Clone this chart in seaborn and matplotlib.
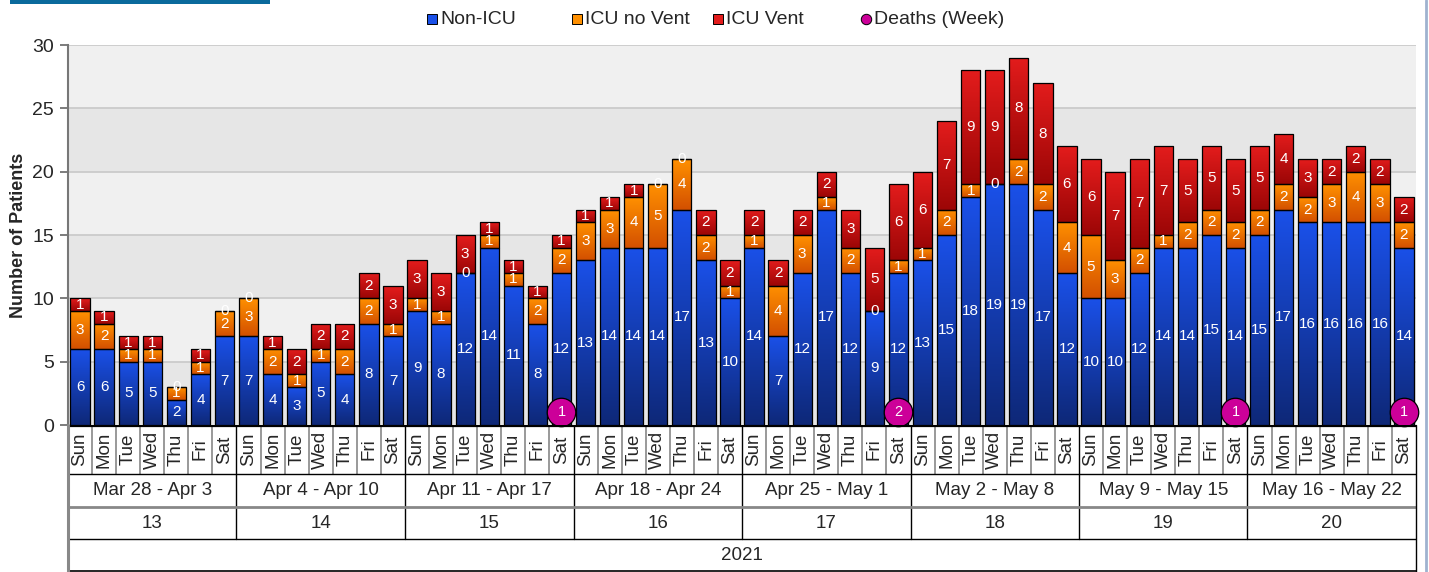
import numpy as np
import pandas as pd
import matplotlib
matplotlib.use("Agg")
import matplotlib.pyplot as plt
from matplotlib.colors import LinearSegmentedColormap
from matplotlib.lines import Line2D
from matplotlib.patches import Rectangle
import seaborn as sns

# ---------------- data ----------------
days = ["Sun", "Mon", "Tue", "Wed", "Thu", "Fri", "Sat"]
week_ranges = ["Mar 28 - Apr 3", "Apr 4 - Apr 10", "Apr 11 - Apr 17", "Apr 18 - Apr 24",
               "Apr 25 - May 1", "May 2 - May 8", "May 9 - May 15", "May 16 - May 22"]
week_numbers = ["13", "14", "15", "16", "17", "18", "19", "20"]
year_label = "2021"

non_icu = [6, 6, 5, 5, 2, 4, 7,
           7, 4, 3, 5, 4, 8, 7,
           9, 8, 12, 14, 11, 8, 12,
           13, 14, 14, 14, 17, 13, 10,
           14, 7, 12, 17, 12, 9, 12,
           13, 15, 18, 19, 19, 17, 12,
           10, 10, 12, 14, 14, 15, 14,
           15, 17, 16, 16, 16, 16, 14]
icu_no_vent = [3, 2, 1, 1, 1, 1, 2,
               3, 2, 1, 1, 2, 2, 1,
               1, 1, 0, 1, 1, 2, 2,
               3, 3, 4, 5, 4, 2, 1,
               1, 4, 3, 1, 2, 0, 1,
               1, 2, 1, 0, 2, 2, 4,
               5, 3, 2, 1, 2, 2, 2,
               2, 2, 2, 3, 4, 3, 2]
icu_vent = [1, 1, 1, 1, 0, 1, 0,
            0, 1, 2, 2, 2, 2, 3,
            3, 3, 3, 1, 1, 1, 1,
            1, 1, 1, 0, 0, 2, 2,
            2, 2, 2, 2, 3, 5, 6,
            6, 7, 9, 9, 8, 8, 6,
            6, 7, 7, 7, 5, 5, 5,
            5, 4, 3, 2, 2, 2, 2]
# weekly deaths (shown on the Saturday of the week), None = no marker
weekly_deaths = [None, None, 1, None, 2, None, 1, 1]

# ---------------- style ----------------
FONT = ["Liberation Sans", "DejaVu Sans"]
plt.rcParams["font.family"] = FONT
sns.set_style("white")
plt.rcParams["font.family"] = FONT

W_PX, H_PX = 1429, 572
L_PX, R_PX, T_PX, B_PX = 68, 1416, 45, 425
DEATH_Y = 1.05
YLABEL_PX = 27

BLUE = ("#1a50e8", "#0e2878")
ORANGE = ("#ff9000", "#d35000")
RED = ("#e31c1c", "#9c0606")
MAGENTA = "#cc0099"

n = len(non_icu)
pos = np.arange(n)
df = pd.DataFrame({"pos": pos, "non_icu": non_icu, "icu_no_vent": icu_no_vent,
                   "icu_vent": icu_vent})
bottom_orange = np.array(non_icu)
bottom_red = np.array(non_icu) + np.array(icu_no_vent)

fig = plt.figure(figsize=(W_PX / 100, H_PX / 100), dpi=100)
ax = fig.add_axes([L_PX / W_PX, 1 - B_PX / H_PX, (R_PX - L_PX) / W_PX, (B_PX - T_PX) / H_PX])

# background bands
for k, lo in enumerate(range(0, 30, 5)):
    ax.axhspan(lo, lo + 5, color="#e6e6e6" if k % 2 == 0 else "#f0f0f0", zorder=0, lw=0)
for v in range(5, 31, 5):
    ax.axhline(v, color="#c8c8c8", lw=1.2, zorder=0.5)

segments = [("non_icu", None, BLUE), ("icu_no_vent", bottom_orange, ORANGE),
            ("icu_vent", bottom_red, RED)]
for col, bot, cols in segments:
    before = len(ax.patches)
    kw = {} if bot is None else {"bottom": bot}
    sns.barplot(data=df, x="pos", y=col, order=list(pos), width=0.8, color=cols[0],
                edgecolor="black", linewidth=0.9, ax=ax, **kw)
    cmap = LinearSegmentedColormap.from_list(col, [cols[1], cols[0]])
    for rect in ax.patches[before:]:
        x0, y0 = rect.get_x(), rect.get_y()
        w, h = rect.get_width(), rect.get_height()
        rect.set_facecolor("none")
        rect.set_zorder(3)
        if h > 0:
            im = ax.imshow(np.linspace(0, 1, 64).reshape(-1, 1), extent=(x0, x0 + w, y0, y0 + h),
                           origin="lower", cmap=cmap, aspect="auto", zorder=2,
                           interpolation="bilinear")
            im.set_clip_path(rect)

# segment labels
for i in range(n):
    vals = [non_icu[i], icu_no_vent[i], icu_vent[i]]
    base = 0
    for v in vals:
        ax.text(i, base + v / 2, str(v), ha="center", va="center", color="white",
                fontsize=11, zorder=4)
        base += v

# deaths markers
sat_pos = [w * 7 + 6 for w, d in enumerate(weekly_deaths) if d is not None]
death_vals = [d for d in weekly_deaths if d is not None]
ax.scatter(sat_pos, [DEATH_Y] * len(sat_pos), s=420, color=MAGENTA, edgecolor="black",
           linewidth=0.9, zorder=6, clip_on=False)
for xp, d in zip(sat_pos, death_vals):
    ax.text(xp, DEATH_Y, str(d), ha="center", va="center", color="white", fontsize=10.5, zorder=7)

ax.set_xlim(-0.5, n - 0.5)
ax.set_ylim(0, 30)
ax.set_yticks(range(0, 31, 5))
ax.tick_params(axis="y", labelsize=14, length=6, color="#666666", width=1.2, pad=4,
               left=True)
ax.set_xticks([])
ax.set_xlabel("")
ax.set_ylabel("Number of Patients", fontsize=13, fontweight="bold")
ax.yaxis.set_label_coords(-(L_PX - YLABEL_PX) / (R_PX - L_PX), 0.5)
for s in ["top", "right", "bottom"]:
    ax.spines[s].set_visible(False)
ax.spines["left"].set_color("#777777")
ax.spines["left"].set_linewidth(1.5)

# ---------------- category table ----------------
tab_h = H_PX - B_PX
tax = fig.add_axes([L_PX / W_PX, 0, (R_PX - L_PX) / W_PX, tab_h / H_PX])
tax.set_xlim(-0.5, n - 0.5)
tax.set_ylim(tab_h, 0)
tax.axis("off")
r1, r2, r3, r4 = 49, 82, 114, tab_h
for i in range(n):
    tax.text(i, r1 / 2, days[i % 7], rotation=90, ha="center", va="center", fontsize=13.5)
    if i > 0 and i % 7 != 0:
        tax.plot([i - 0.5, i - 0.5], [0, r1], color="#888888", lw=1.2)
for wk in range(len(week_ranges)):
    c = wk * 7 + 3
    tax.text(c, (r1 + r2) / 2, week_ranges[wk], ha="center", va="center", fontsize=13.5)
    tax.text(c, (r2 + r3) / 2, week_numbers[wk], ha="center", va="center", fontsize=13.5)
    if wk > 0:
        tax.plot([wk * 7 - 0.5] * 2, [0, r3], color="black", lw=1)
tax.text((n - 1) / 2, (r3 + r4) / 2, year_label, ha="center", va="center", fontsize=13.5)
tax.axhline(0.5, color="black", lw=1.6)
tax.axhline(r1, color="black", lw=1)
tax.axhline(r2, color="#888888", lw=2)
tax.axhline(r3, color="black", lw=1)
tax.axhline(r4 - 0.6, color="black", lw=1.2)
tax.plot([n - 0.5] * 2, [0, r4], color="black", lw=1, clip_on=False)
tax.plot([-0.5] * 2, [0, r4], color="#888888", lw=2.2, clip_on=False)

# ---------------- legend ----------------
ly = 1 - 19 / H_PX
legend_items = [(432, "s", BLUE[0], "Non-ICU"), (577, "s", ORANGE[0], "ICU no Vent"),
                (718, "s", RED[0], "ICU Vent"), (866, "o", MAGENTA, "Deaths (Week)")]
for xm, mk, colr, lab in legend_items:
    fig.add_artist(Line2D([xm / W_PX], [ly], marker=mk, markersize=7.5, color=colr,
                          markeredgecolor="black", markeredgewidth=0.7, linestyle="none",
                          transform=fig.transFigure))
    fig.text((xm + 8) / W_PX, ly, lab, ha="left", va="center", fontsize=14)

# decorations: title strip and right border
fig.add_artist(Rectangle((10 / W_PX, 1 - 4 / H_PX), 260 / W_PX, 4 / H_PX,
                         transform=fig.transFigure, color="#0a6a9c", lw=0))
fig.add_artist(Line2D([1426 / W_PX] * 2, [0, 1], color="#9fb2cf", lw=2,
                      transform=fig.transFigure))

fig.savefig("out.png", dpi=100)
